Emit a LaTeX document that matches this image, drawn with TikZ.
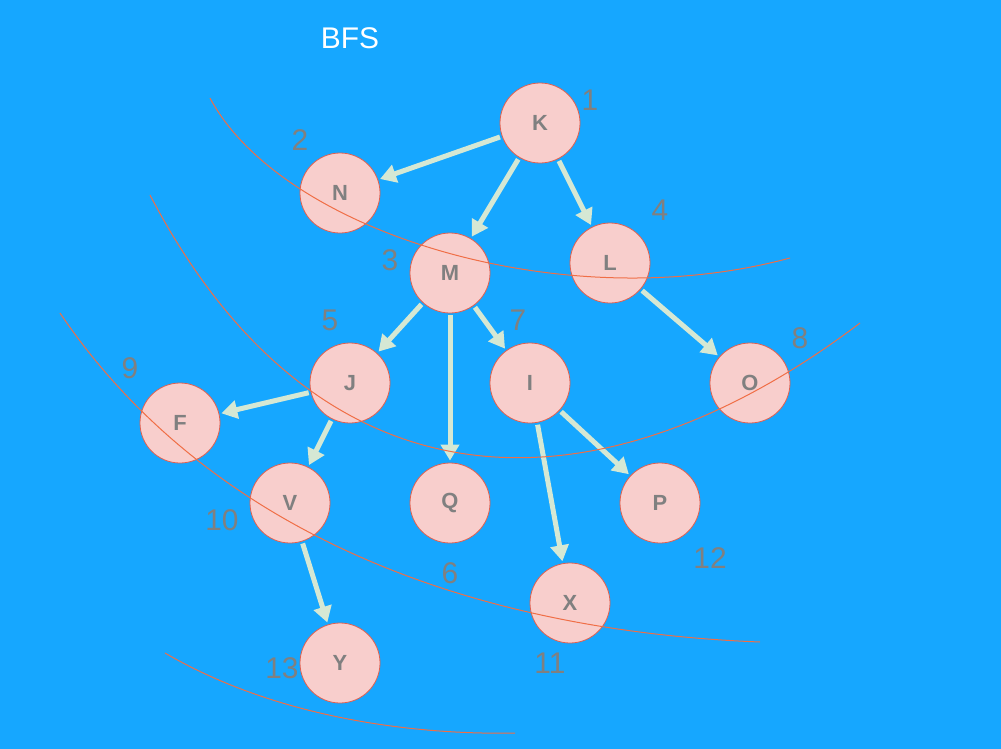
\documentclass[tikz,border=0pt]{standalone}
\usepackage{fontspec}
\setmainfont{Liberation Sans}
\usetikzlibrary{arrows.meta}
\definecolor{bg}{RGB}{22,167,255}
\definecolor{nfill}{RGB}{248,206,204}
\definecolor{nline}{RGB}{224,96,80}
\definecolor{arr}{RGB}{213,232,212}
\definecolor{arrd}{RGB}{160,190,160}
\definecolor{num}{RGB}{128,128,128}
\definecolor{crv}{RGB}{240,110,70}
\tikzset{
  vtx/.style={circle,minimum size=80bp,inner sep=0pt,fill=nfill,draw=nline,line width=0.8bp,
    font=\fontsize{22}{26}\selectfont\bfseries,text=num},
  lbl/.style={font=\fontsize{30}{34}\selectfont,text=num},
  edge/.style={draw=arr,line width=5bp,-{Triangle[length=16bp,width=18bp,fill=arr]},shorten >=2bp,shorten <=2bp},
  cut/.style={draw=crv,line width=1bp}
}
\begin{document}
\begin{tikzpicture}[x=1bp,y=-1bp]
\fill[bg] (0,0) rectangle (1001,749);
\useasboundingbox (0,0) rectangle (1001,749);
\node[font=\fontsize{30}{34}\selectfont,text=white] (title) at (350,38) {BFS};
\node[vtx] (K) at (540,123) {K};
\node[vtx] (N) at (340,193) {N};
\node[vtx] (M) at (450,273) {M};
\node[vtx] (L) at (610,263) {L};
\node[vtx] (J) at (350,383) {J};
\node[vtx] (I) at (530,383) {I};
\node[vtx] (O) at (750,383) {O};
\node[vtx] (F) at (180,423) {F};
\node[vtx] (V) at (290,503) {V};
\node[vtx] (Q) at (450,503) {Q};
\node[vtx] (P) at (660,503) {P};
\node[vtx] (X) at (570,603) {X};
\node[vtx] (Y) at (340,663) {Y};
\draw[edge] (K) -- (N);
\draw[edge] (K) -- (M);
\draw[edge] (K) -- (L);
\draw[edge] (M) -- (J);
\draw[edge] (M) -- (Q);
\draw[edge] (M) -- (I);
\draw[edge] (L) -- (O);
\draw[edge] (J) -- (F);
\draw[edge] (J) -- (V);
\draw[edge] (I) -- (P);
\draw[edge] (I) -- (X);
\draw[edge] (V) -- (Y);
\draw[cut] (210,98) .. controls (280,230) and (560,320) .. (790,258);
\draw[cut] (150,195) .. controls (320,520) and (600,520) .. (860,323);
\draw[cut] (60,313) .. controls (200,520) and (450,630) .. (760,642);
\draw[cut] (165,653) .. controls (280,720) and (420,735) .. (515,733);
\node[lbl] (n1) at (590,100) {1};
\node[lbl] (n2) at (300,140) {2};
\node[lbl] (n3) at (390,260) {3};
\node[lbl] (n4) at (660,210) {4};
\node[lbl] (n5) at (330,320) {5};
\node[lbl] (n7) at (518,320) {7};
\node[lbl] (n8) at (800,338) {8};
\node[lbl] (n9) at (130,368) {9};
\node[lbl] (n10) at (222,520) {10};
\node[lbl] (n6) at (450,573) {6};
\node[lbl] (n12) at (710,558) {12};
\node[lbl] (n11) at (550,663) {11};
\node[lbl] (n13) at (282,668) {13};
\end{tikzpicture}
\end{document}
